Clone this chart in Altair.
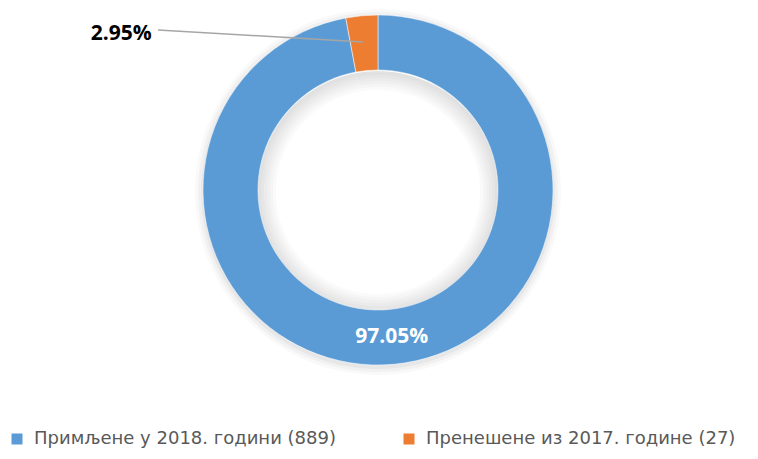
import altair as alt
import pandas as pd

categories = ["Примљене у 2018. години (889)", "Пренешене из 2017. године (27)"]
counts = [889, 27]
pct_labels = ["97.05%", "2.95%"]
colors = ["#5B9BD5", "#ED7D31"]
order = [0, 1]

df = pd.DataFrame({"cat": categories, "n": counts, "lbl": pct_labels, "o": order})

CX, CY = 370, 182
R_OUT, R_IN = 175, 120

base = alt.Chart(df).encode(
    theta=alt.Theta("n:Q", stack=True),
    order=alt.Order("o:Q"),
)

# soft shadow rings (outer glow and inner shade)
shadow_rings = [(R_OUT + 8, R_OUT - 2, 0.025), (R_OUT + 5, R_OUT - 2, 0.03), (R_OUT + 2, R_OUT - 2, 0.04)]
for k in range(6):
    shadow_rings.append((R_IN + 1, R_IN - 3 - 3 * k, 0.018))
shadow_layers = []
for ro, ri, op in shadow_rings:
    shadow_layers.append(
        alt.Chart(df).mark_arc(outerRadius=ro, innerRadius=ri, color="#000000", opacity=op).encode(
            theta=alt.Theta("n:Q", stack=True),
            order=alt.Order("o:Q"),
            x=alt.value(CX), y=alt.value(CY + 2),
        )
    )

arcs = base.mark_arc(outerRadius=R_OUT, innerRadius=R_IN, stroke="#ffffff", strokeWidth=0.5).encode(
    color=alt.Color(
        "cat:N",
        scale=alt.Scale(domain=categories, range=colors),
        sort=categories,
        legend=alt.Legend(
            title=None, orient="none", direction="horizontal",
            legendX=0, legendY=422,
            symbolType="square", symbolSize=121, symbolStrokeWidth=0,
            labelFont="DejaVu Sans", labelFontSize=18, labelColor="#595959",
            labelLimit=420, columnPadding=64, labelOffset=8, padding=0,
        ),
    ),
    x=alt.value(CX), y=alt.value(CY),
)

inner_label = base.mark_text(radius=148, font="Open Sans", fontSize=21, fontWeight="bold", color="#ffffff").encode(
    text="lbl:N",
    opacity=alt.condition(alt.datum.o == 0, alt.value(1), alt.value(0)),
    x=alt.value(CX), y=alt.value(CY),
)

outer_label = base.mark_text(radius=148, dx=-243, dy=-9, font="Open Sans", fontSize=21, fontWeight="bold", color="#000000").encode(
    text="lbl:N",
    opacity=alt.condition(alt.datum.o == 1, alt.value(1), alt.value(0)),
    x=alt.value(CX), y=alt.value(CY),
)

leader = alt.Chart(df).mark_rule(color="#a6a6a6", strokeWidth=1.5).encode(
    x=alt.value(150), y=alt.value(22), x2=alt.value(355), y2=alt.value(34)
).transform_filter(alt.datum.o == 1)

chart = alt.layer(*shadow_layers, arcs, leader, inner_label, outer_label).properties(
    width=742, height=443, autosize=alt.AutoSizeParams(type="none"), padding=0,
    background="#ffffff",
).configure_view(stroke=None)

chart.save("out.html", embed_options={"renderer": "svg", "actions": False})
